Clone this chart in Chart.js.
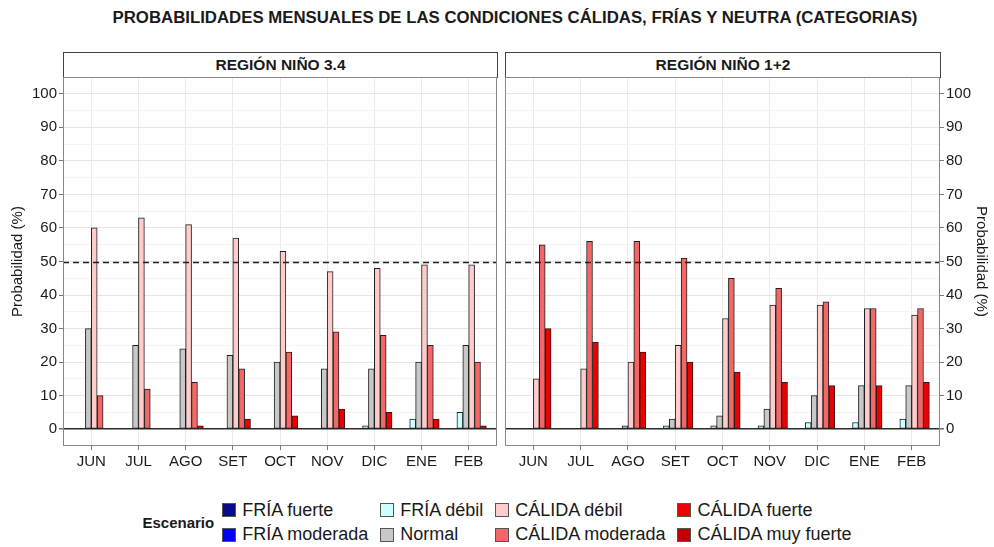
<!DOCTYPE html>
<html>
<head>
<meta charset="utf-8">
<script src="https://cdn.jsdelivr.net/npm/chart.js@4.4.1/dist/chart.umd.min.js"></script>
<style>
  body { margin: 0; background: #fff; font-family: "Liberation Sans", Arial, sans-serif; color: #1a1a1a; }
  #page { position: relative; width: 994px; height: 547px; overflow: hidden; }
  #title { position: absolute; top: 8px; left: 18px; width: 994px; text-align: center; font-weight: bold; font-size: 16.8px; line-height: 20px; }
  .strip { position: absolute; top: 52px; height: 26px; box-sizing: border-box; border: 1px solid #444; background: #fff;
           text-align: center; font-weight: bold; font-size: 15.5px; line-height: 24px; }
  .panel { position: absolute; top: 77px; height: 400px; }
  #legend { position: absolute; top: 498px; left: 0; width: 994px; display: flex; justify-content: center; align-items: center; }
  #legend .head { font-weight: bold; font-size: 15px; margin-right: 8px; }
  #legend .items { display: grid; grid-template-rows: 24px 25px; grid-auto-flow: column; column-gap: 12px; }
  #legend .item { display: flex; align-items: center; font-size: 18px; }
  #legend .sw { width: 14px; height: 14px; box-sizing: border-box; border: 1px solid #555; margin-right: 6px; }
</style>
</head>
<body>
<div id="page">
  <div id="title">PROBABILIDADES MENSUALES DE LAS CONDICIONES CÁLIDAS, FRÍAS Y NEUTRA (CATEGORIAS)</div>
  <div class="strip" style="left:63px;width:435px;">REGIÓN NIÑO 3.4</div>
  <div class="strip" style="left:505px;width:436px;">REGIÓN NIÑO 1+2</div>
  <div class="panel" style="left:0;width:500px;"><canvas id="chart-n34"></canvas></div>
  <div class="panel" style="left:500px;width:494px;"><canvas id="chart-n12"></canvas></div>
  <div id="legend"></div>
</div>

<script>
// meses y escenarios
const months = ['JUN', 'JUL', 'AGO', 'SET', 'OCT', 'NOV', 'DIC', 'ENE', 'FEB'];
const scenarios = ['FRÍA fuerte', 'FRÍA moderada', 'FRÍA débil', 'Normal',
                   'CÁLIDA débil', 'CÁLIDA moderada', 'CÁLIDA fuerte', 'CÁLIDA muy fuerte'];
const scenarioColors = ['#0a0a8c', '#0000ff', '#ccffff', '#c8c8c8',
                        '#ffcccc', '#f46767', '#ee0000', '#c00000'];
const yTicks = [0, 5, 10, 15, 20, 25, 30, 35, 40, 45, 50, 55, 60, 65, 70, 75, 80, 85, 90, 95, 100];
const refLine = 50;

// Región Niño 3.4 (%)
const n34FriaFuerte      = [0, 0, 0, 0, 0, 0, 0, 0, 0];
const n34FriaModerada    = [0, 0, 0, 0, 0, 0, 0, 0, 0];
const n34FriaDebil       = [0, 0, 0, 0, 0, 0, 1, 3, 5];
const n34Normal          = [30, 25, 24, 22, 20, 18, 18, 20, 25];
const n34CalidaDebil     = [60, 63, 61, 57, 53, 47, 48, 49, 49];
const n34CalidaModerada  = [10, 12, 14, 18, 23, 29, 28, 25, 20];
const n34CalidaFuerte    = [0, 0, 1, 3, 4, 6, 5, 3, 1];
const n34CalidaMuyFuerte = [0, 0, 0, 0, 0, 0, 0, 0, 0];

// Región Niño 1+2 (%)
const n12FriaFuerte      = [0, 0, 0, 0, 0, 0, 0, 0, 0];
const n12FriaModerada    = [0, 0, 0, 0, 0, 0, 0, 0, 0];
const n12FriaDebil       = [0, 0, 0, 1, 1, 1, 2, 2, 3];
const n12Normal          = [0, 0, 1, 3, 4, 6, 10, 13, 13];
const n12CalidaDebil     = [15, 18, 20, 25, 33, 37, 37, 36, 34];
const n12CalidaModerada  = [55, 56, 56, 51, 45, 42, 38, 36, 36];
const n12CalidaFuerte    = [30, 26, 23, 20, 17, 14, 13, 13, 14];
const n12CalidaMuyFuerte = [0, 0, 0, 0, 0, 0, 0, 0, 0];

const n34Series = [n34FriaFuerte, n34FriaModerada, n34FriaDebil, n34Normal,
                   n34CalidaDebil, n34CalidaModerada, n34CalidaFuerte, n34CalidaMuyFuerte];
const n12Series = [n12FriaFuerte, n12FriaModerada, n12FriaDebil, n12Normal,
                   n12CalidaDebil, n12CalidaModerada, n12CalidaFuerte, n12CalidaMuyFuerte];

const tickFont = { family: '"Liberation Sans", Arial, sans-serif', size: 15 };

// borde del panel y linea punteada en 50%
const panelDecor = {
    id: 'panelDecor',
    afterDatasetsDraw(chart) {
        const { ctx, chartArea, scales } = chart;
        const y = Math.round(scales.y.getPixelForValue(refLine)) + 0.5;
        ctx.save();
        ctx.strokeStyle = '#222';
        ctx.lineWidth = 1.4;
        ctx.setLineDash([6, 4]);
        ctx.beginPath();
        ctx.moveTo(chartArea.left, y);
        ctx.lineTo(chartArea.right, y);
        ctx.stroke();
        ctx.restore();
    },
    afterDraw(chart) {
        const { ctx, chartArea } = chart;
        ctx.save();
        ctx.strokeStyle = '#888';
        ctx.lineWidth = 1;
        ctx.strokeRect(chartArea.left + 0.5, chartArea.top + 0.5,
                       chartArea.right - chartArea.left - 1, chartArea.bottom - chartArea.top - 1);
        ctx.restore();
    }
};

function makePanel(canvasId, series, side) {
    const datasets = series.map((values, k) => ({
        label: scenarios[k],
        data: values.map((v, i) => ({ x: i, y: v })),
        backgroundColor: scenarioColors[k],
        borderColor: '#1f1f1f',
        borderWidth: 1,
        borderSkipped: false,
        categoryPercentage: 1,
        barPercentage: 1
    }));
    return new Chart(document.getElementById(canvasId), {
        type: 'bar',
        data: { datasets: datasets },
        options: {
            responsive: true,
            maintainAspectRatio: false,
            animation: false,
            layout: { padding: side === 'left' ? { left: 0, right: 3, top: 0, bottom: 0 }
                                               : { left: 5, right: 0, top: 0, bottom: 0 } },
            plugins: {
                legend: { display: false },
                tooltip: { enabled: false },
                title: { display: false }
            },
            scales: {
                x: {
                    type: 'linear',
                    min: -0.6,
                    max: 8.6,
                    offset: false,
                    afterBuildTicks: s => { s.ticks = months.map((m, i) => ({ value: i })); },
                    afterFit: s => { s.height = 31; s.paddingLeft = 0; s.paddingRight = 0; },
                    ticks: {
                        callback: v => months[v],
                        font: tickFont,
                        color: '#1a1a1a',
                        padding: 3,
                        maxRotation: 0,
                        autoSkip: false
                    },
                    grid: { color: '#ebebeb', tickColor: '#777', tickLength: 4, offset: false },
                    border: { display: false }
                },
                y: {
                    position: side,
                    min: -5,
                    max: 105,
                    afterBuildTicks: s => { s.ticks = yTicks.map(v => ({ value: v })); },
                    afterFit: s => { s.width = side === 'left' ? 63 : 54; s.paddingTop = 0; s.paddingBottom = 0; },
                    ticks: {
                        callback: v => (v % 10 === 0 ? v : ''),
                        font: tickFont,
                        color: '#1a1a1a',
                        padding: 2,
                        autoSkip: false
                    },
                    grid: {
                        color: c => c.tick.value === 0 ? '#2b2b2b' : (c.tick.value % 10 === 0 ? '#e6e6e6' : '#f4f4f4'),
                        lineWidth: c => c.tick.value === 0 ? 1.6 : 1,
                        tickColor: c => c.tick.value % 10 === 0 ? '#777' : 'rgba(0,0,0,0)',
                        tickLength: 4
                    },
                    border: { display: false },
                    title: {
                        display: true,
                        text: 'Probabilidad (%)',
                        font: { family: '"Liberation Sans", Arial, sans-serif', size: 15 },
                        color: '#1a1a1a',
                        padding: side === 'left' ? { top: 9, bottom: 0 } : { top: 4, bottom: 0 }
                    }
                }
            }
        },
        plugins: [panelDecor]
    });
}

makePanel('chart-n34', n34Series, 'left');
makePanel('chart-n12', n12Series, 'right');

// leyenda
const legendEl = document.getElementById('legend');
let html = '<div class="head">Escenario</div><div class="items">';
scenarios.forEach((name, k) => {
    html += '<div class="item"><span class="sw" style="background:' + scenarioColors[k] + '"></span>' + name + '</div>';
});
html += '</div>';
legendEl.innerHTML = html;
</script>
</body>
</html>
